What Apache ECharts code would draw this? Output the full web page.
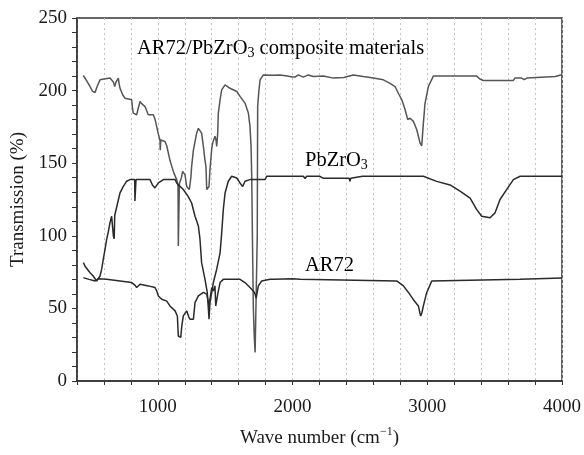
<!DOCTYPE html>
<html>
<head>
<meta charset="utf-8">
<script src="https://cdn.jsdelivr.net/npm/echarts@6/dist/echarts.min.js"></script>
<style>
html,body{margin:0;padding:0;background:#fff;}
#chart{width:584px;height:455px;}
</style>
</head>
<body>
<div id="chart"></div>
<script>
// Wave number (cm-1), Transmission (%)
const compositeData = [[447,210.4],[470,207],[495,203],[516,199.5],[534,198.7],[550,203],[571,207.4],[600,208],[645,208.6],[670,206],[680,202.8],[690,206],[707,208.6],[712,205],[719,201.7],[740,197],[756,194.8],[806,193.7],[812,188],[818,184.5],[843,183.4],[855,188],[868,192.5],[880,191],[905,189],[929,183.4],[967,183.4],[980,180],[992,175],[1004,170],[1016,166],[1018,159],[1022,166],[1053,165],[1066,162],[1078,157],[1090,152],[1103,148],[1120,143],[1140,138.7],[1150,134],[1152,93],[1158,93],[1160,136],[1165,136.4],[1175,140],[1184,144.4],[1202,142],[1214,134],[1234,131.9],[1245,140],[1251,147.8],[1264,159],[1288,170.7],[1301,174],[1313,173],[1325,170.7],[1338,161.6],[1350,152],[1357,147.8],[1363,131.9],[1375,133],[1380,134],[1387,145.6],[1400,160],[1407,163.9],[1424,168.5],[1432,166],[1437,161.6],[1444,170],[1449,184.5],[1462,193.7],[1474,200.5],[1499,204],[1536,201.6],[1586,199.4],[1610,196],[1647,191.4],[1672,184.5],[1684,175.3],[1692,161.6],[1697,140],[1702,100],[1709,50],[1716,30],[1722,19.7],[1734,19.7],[1738,100],[1741,189],[1750,200],[1759,207.4],[1783,210.8],[1850,210.5],[1907,210.8],[1960,210],[2000,209.3],[2018,209.3],[2043,210.8],[2080,209.3],[2117,210.8],[2154,209.7],[2229,210],[2303,208.6],[2380,209],[2451,210.8],[2525,209.7],[2600,208.6],[2674,207.4],[2724,205],[2761,202.8],[2786,198],[2811,193.7],[2835,187],[2855,180],[2872,181],[2897,178.8],[2922,173],[2946,164],[2959,162],[2965,170],[2971,177.6],[2983,191],[3008,202.8],[3045,210],[3367,210],[3390,208],[3416,207],[3639,207],[3650,208.6],[3700,208.6],[3720,207.5],[3740,208.6],[3950,209.7],[3990,210.8],[4000,210.8]];

const pbzro3Data = [[447,81.5],[460,79],[472,78],[497,74.6],[520,72.3],[546,68.9],[571,72.3],[583,77],[595,83.8],[608,90.7],[620,97.5],[633,103],[645,109],[657,113.5],[668,114],[670,100],[676,98],[680,114],[695,120],[719,129.5],[744,134],[769,137.6],[793,138.7],[828,138.7],[830,124],[836,124],[838,138.7],[942,138.7],[960,135],[979,133],[1004,136.4],[1041,138.7],[1128,138.7],[1140,136.4],[1189,131.9],[1226,127],[1251,122.6],[1276,113.5],[1301,106.7],[1313,97.5],[1325,81.5],[1350,70],[1367,61],[1375,50],[1380,42.6],[1387,54],[1400,61],[1412,67.8],[1437,77],[1462,88.3],[1474,102],[1486,118],[1499,129.5],[1523,137.6],[1548,141],[1586,139.8],[1610,136.4],[1630,134],[1647,137.6],[1684,138.7],[1796,138.7],[1808,141],[2080,141],[2093,139.5],[2105,141],[2200,141],[2230,139.6],[2420,139.6],[2426,137.5],[2432,139.6],[2520,141],[2971,141],[3070,137.5],[3169,135],[3243,130.7],[3318,126],[3367,118],[3404,113.5],[3466,112.4],[3503,115.8],[3540,125],[3590,132],[3639,138.7],[3689,141],[4000,141]];

const ar72Data = [[447,71.2],[490,70],[534,68.9],[560,70.5],[620,70],[719,68.9],[806,67.8],[830,66],[843,64.4],[868,66.6],[929,65.5],[979,64.4],[992,62],[1004,58.6],[1029,56.3],[1066,55],[1090,51.7],[1128,48.3],[1145,44.8],[1152,31],[1170,30],[1178,38],[1189,44.8],[1214,48.3],[1230,44],[1239,42.6],[1264,42.6],[1276,54],[1301,58.6],[1338,61],[1363,59.8],[1380,52],[1387,56.3],[1400,64.4],[1412,62],[1424,65.5],[1430,51.7],[1436,52],[1445,60],[1462,67.8],[1486,70],[1610,70],[1647,67.8],[1684,64.4],[1709,62],[1722,59.8],[1730,57],[1746,65.5],[1771,68.9],[1833,70],[1845,71],[1860,70],[2000,70.5],[2056,70],[2773,68.9],[2823,65.5],[2860,61],[2897,56],[2934,51.7],[2945,47],[2951,44.8],[2960,47],[2971,51.7],[2996,61],[3033,68.8],[3045,70],[3689,70],[3695,71],[4000,71]];

const xLabelSteps = [1000, 2000, 3000, 4000];

const FONT = 'Liberation Serif';
const TXT = '#1a1a1a';
const chart = echarts.init(document.getElementById('chart'), null, {renderer: 'canvas'});

const richSub = {
  n: {fontSize: 20.5, fontFamily: FONT, color: TXT, lineHeight: 24},
  sub: {fontSize: 14, fontFamily: FONT, color: TXT, lineHeight: 14, verticalAlign: 'bottom'}
};

chart.setOption({
  animation: false,
  backgroundColor: '#fff',
  grid: {left: 77, right: 22, top: 18, bottom: 73, show: true, borderColor: '#333', borderWidth: 1.5, backgroundColor: 'transparent'},
  xAxis: {
    type: 'value', min: 400, max: 4000, interval: 200,
    name: 'Wave number (cm{sup|\u22121})',
    nameLocation: 'middle', nameGap: 45,
    nameTextStyle: {fontFamily: FONT, fontSize: 19, color: TXT, lineHeight: 24,
      rich: {sup: {fontSize: 12, fontFamily: FONT, color: TXT, lineHeight: 14, verticalAlign: 'top'}}},
    axisLine: {lineStyle: {color: '#333', width: 1.5}},
    axisTick: {show: true, length: 4, lineStyle: {color: '#333', width: 1}},
    axisLabel: {fontFamily: FONT, fontSize: 19, color: TXT, margin: 17,
      formatter: v => xLabelSteps.indexOf(v) >= 0 ? String(v) : ''},
    splitLine: {show: true, lineStyle: {type: [2, 3], color: '#c4c4c4', width: 1}}
  },
  yAxis: {
    type: 'value', min: 0, max: 250, interval: 50,
    name: 'Transmission (%)', nameLocation: 'middle', nameGap: 41, nameRotate: 90,
    nameTextStyle: {fontFamily: FONT, fontSize: 19, color: TXT},
    axisLine: {show: true, lineStyle: {color: '#333', width: 1.5}},
    axisTick: {show: true, length: 5, lineStyle: {color: '#333', width: 1}},
    minorTick: {show: true, splitNumber: 5, length: 5, lineStyle: {color: '#333', width: 1}},
    axisLabel: {fontFamily: FONT, fontSize: 19, color: TXT, margin: 10},
    splitLine: {show: false}
  },
  series: [
    {name: 'AR72/PbZrO3 composite materials', type: 'line', data: compositeData, showSymbol: false, symbol: 'none',
      lineStyle: {color: '#555', width: 1.5}},
    {name: 'PbZrO3', type: 'line', data: pbzro3Data, showSymbol: false, symbol: 'none',
      lineStyle: {color: '#2a2a2a', width: 1.5}},
    {name: 'AR72', type: 'line', data: ar72Data, showSymbol: false, symbol: 'none',
      lineStyle: {color: '#2a2a2a', width: 1.5}}
  ],
  graphic: [
    {type: 'text', left: 137, top: 38, style: {text: '{n|AR72/PbZrO}{sub|3}{n| composite materials}', rich: richSub}},
    {type: 'text', left: 305, top: 150, style: {text: '{n|PbZrO}{sub|3}', rich: richSub}},
    {type: 'text', left: 305, top: 255, style: {text: '{n|AR72}', rich: richSub}}
  ]
});
</script>
</body>
</html>
